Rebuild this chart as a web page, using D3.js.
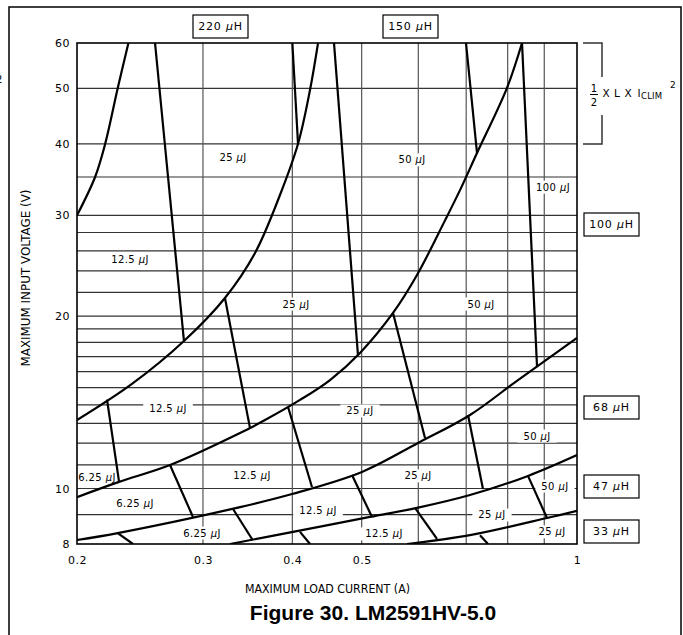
<!DOCTYPE html>
<html>
<head>
<meta charset="utf-8">
<script src="https://cdn.jsdelivr.net/npm/d3@7"></script>
<style>
  body { margin: 0; background: #fff; }
</style>
</head>
<body>
<div id="chart"></div>
<script>
// ---- data (current in A, voltage in V) ----
var xTickValues = [0.2, 0.3, 0.4, 0.5, 1];
var yTickValues = [8, 10, 20, 30, 40, 50, 60];
var xGridValues = [0.3, 0.4, 0.5, 0.6, 0.7, 0.8, 0.9];
var yGridValues = [9, 10, 11, 12, 13, 14, 15, 16, 17, 18, 19, 20, 22, 24, 26, 28, 30, 35, 40, 50];

// inductor boundaries
var curve330to220 = [[0.2, 30], [0.212, 35], [0.219, 40], [0.228, 50], [0.236, 60]];
var curve220to150 = [[0.2, 13.17], [0.2387, 15.23], [0.2822, 18.1], [0.322, 21.52], [0.3547, 25.78],
  [0.3844, 32.56], [0.4074, 40], [0.4234, 49.67], [0.4345, 60]];
var curve150to100 = [[0.2, 9.66], [0.229, 10.27], [0.2698, 10.99], [0.338, 12.5], [0.3663, 13.17], [0.41, 14.28],
  [0.4516, 15.47], [0.4973, 17.25], [0.5531, 20.26], [0.5975, 23.6], [0.6539, 29.4], [0.6862, 33.2], [0.7248, 38.55],
  [0.7983, 50.1], [0.8378, 60]];
var curve100to68 = [[0.2, 8.13], [0.228, 8.36], [0.338, 9.28], [0.3996, 9.78], [0.5005, 10.69], [0.5994, 12.01],
  [0.7086, 13.44], [0.827, 15.47], [1, 18.32]];
var curve68to47 = [[0.3273, 8], [0.4009, 8.4], [0.5136, 8.92], [0.5975, 9.25], [0.7086, 9.74], [0.854, 10.52], [1, 11.44]];
var curve47to33 = [[0.5786, 8], [0.7086, 8.29], [0.908, 8.88], [1, 9.14]];

// energy boundaries
var energyLines = [
  [[0.2571, 60], [0.2822, 18.1]],
  [[0.40, 60], [0.4074, 40]],
  [[0.4574, 60], [0.4941, 17.1]],
  [[0.6996, 60], [0.7248, 38.55]],
  [[0.8378, 60], [0.8793, 16.3]],
  [[0.322, 21.52], [0.349, 12.76]],
  [[0.2203, 14.3], [0.229, 10.27]],
  [[0.5531, 20.26], [0.6131, 12.25]],
  [[0.2698, 10.99], [0.2905, 8.92]],
  [[0.3945, 13.88], [0.4261, 10.06]],
  [[0.4847, 10.56], [0.5169, 8.92]],
  [[0.3305, 9.21], [0.352, 8.13]],
  [[0.41, 8.4], [0.4234, 8]],
  [[0.5937, 9.25], [0.6372, 8.17]],
  [[0.7041, 13.44], [0.7389, 9.98]],
  [[0.854, 10.52], [0.908, 8.88]],
  [[0.7318, 8.29], [0.7509, 8]],
  [[0.228, 8.36], [0.2395, 8]]
];

// energy labels: current, voltage, µJ
var energyLabels = [
  [0.3305, 37.9, "25"], [0.588, 37.5, "50"], [0.9257, 33.6, "100"], [0.2372, 25.1, "12.5"],
  [0.4048, 21.0, "25"], [0.7342, 21.0, "50"], [0.2681, 13.82, "12.5"], [0.4973, 13.66, "25"],
  [0.8793, 12.35, "50"], [0.2133, 10.47, "6.25"], [0.3513, 10.52, "12.5"], [0.5994, 10.52, "25"],
  [0.9316, 10.10, "50"], [0.2411, 9.43, "6.25"], [0.4345, 9.14, "12.5"], [0.2991, 8.36, "6.25"],
  [0.5373, 8.33, "12.5"], [0.7606, 8.99, "25"], [0.9227, 8.40, "25"]
];

var inductorNames = ["220", "150", "100", "68", "47", "33"];

// ---- layout ----
var svgWidth = 683;
var svgHeight = 635;
var margin = { top: 43, right: 106, bottom: 91, left: 77 };
var width = 500;
var height = 501;

var svg = d3.select("#chart")
  .append("svg")
  .attr("width", svgWidth)
  .attr("height", svgHeight)
  .attr("font-family", "DejaVu Sans, sans-serif");

// page frame
svg.append("path")
  .attr("d", "M9,640 V7 H681 V640")
  .attr("fill", "none")
  .attr("stroke", "#000")
  .attr("stroke-width", 1.5);

// stray glyph from neighbouring figure
svg.append("text").attr("x", -4).attr("y", 83).attr("font-size", 10).text("2");

var chartGroup = svg.append("g")
  .attr("transform", `translate(${margin.left}, ${margin.top})`);

var xScale = d3.scaleLog().domain([0.2, 1]).range([0, width]);
var yScale = d3.scaleLog().domain([8, 60]).range([height, 0]);

chartGroup.append("clipPath").attr("id", "plotClip")
  .append("rect").attr("width", width).attr("height", height);

// grid
chartGroup.selectAll(".hgrid").data(yGridValues).enter()
  .append("line")
  .attr("x1", 0).attr("x2", width)
  .attr("y1", d => yScale(d)).attr("y2", d => yScale(d))
  .attr("stroke", "#333").attr("stroke-width", 1.2);

chartGroup.selectAll(".vgrid").data(xGridValues).enter()
  .append("line")
  .attr("y1", 0).attr("y2", height)
  .attr("x1", d => xScale(d)).attr("x2", d => xScale(d))
  .attr("stroke", "#555").attr("stroke-width", 1.2);

// axes (labels only)
var xAxis = d3.axisBottom(xScale).tickValues(xTickValues).tickSize(0).tickPadding(12).tickFormat(d3.format(""));
var yAxis = d3.axisLeft(yScale).tickValues(yTickValues).tickSize(0).tickPadding(7).tickFormat(d3.format(""));

var gx = chartGroup.append("g").attr("transform", `translate(0, ${height})`).call(xAxis);
var gy = chartGroup.append("g").call(yAxis);
[gx, gy].forEach(g => {
  g.select(".domain").remove();
  g.attr("font-family", null).attr("font-size", null);
  g.selectAll("text")
    .attr("font-size", 11)
    .attr("letter-spacing", 0.5)
    .attr("fill", "#000");
});

var bgLayer = chartGroup.append("g");
var curveLayer = chartGroup.append("g").attr("clip-path", "url(#plotClip)");
var labelLayer = chartGroup.append("g");

// plot frame
chartGroup.append("rect")
  .attr("width", width).attr("height", height)
  .attr("fill", "none").attr("stroke", "#000").attr("stroke-width", 1.6);

var smoothLine = d3.line()
  .x(d => xScale(d[0]))
  .y(d => yScale(d[1]))
  .curve(d3.curveCatmullRom.alpha(0.5));

var straightLine = d3.line()
  .x(d => xScale(d[0]))
  .y(d => yScale(d[1]));

[curve330to220, curve220to150, curve150to100, curve100to68, curve68to47, curve47to33].forEach(c => {
  curveLayer.append("path")
    .attr("d", smoothLine(c))
    .attr("fill", "none").attr("stroke", "#000").attr("stroke-width", 2.2);
});

curveLayer.selectAll(".energy").data(energyLines).enter()
  .append("path")
  .attr("d", d => straightLine(d))
  .attr("fill", "none").attr("stroke", "#000").attr("stroke-width", 2.2);

// energy labels with white backing
energyLabels.forEach(d => {
  var t = labelLayer.append("text")
    .attr("x", xScale(d[0]))
    .attr("y", yScale(d[1]))
    .attr("dy", "0.35em")
    .attr("text-anchor", "middle")
    .attr("font-size", 10)
    .attr("letter-spacing", 0.4);
  t.append("tspan").text(d[2] + " ");
  t.append("tspan").attr("font-style", "italic").text("\u03bc");
  t.append("tspan").text("J");
  var bb = t.node().getBBox();
  bgLayer.append("rect")
    .attr("x", bb.x - 6).attr("y", bb.y - 1)
    .attr("width", bb.width + 12).attr("height", bb.height + 2)
    .attr("fill", "#fff");
});

// inductor boxes
var boxPos = [[193, 15], [383, 15], [584, 213], [584, 396], [584, 475], [584, 520]];
inductorNames.forEach((n, i) => {
  var g = svg.append("g").attr("transform", `translate(${boxPos[i][0]}, ${boxPos[i][1]})`);
  g.append("rect").attr("width", 55).attr("height", 23)
    .attr("fill", "#fff").attr("stroke", "#000").attr("stroke-width", 1.2);
  var t = g.append("text").attr("x", 27.5).attr("y", 11.5).attr("dy", "0.36em")
    .attr("text-anchor", "middle").attr("font-size", 11).attr("letter-spacing", 0.8);
  t.append("tspan").text(n + " ");
  t.append("tspan").attr("font-style", "italic").text("\u03bc");
  t.append("tspan").text("H");
});

// energy formula bracket: 1/2 x L x Iclim^2
svg.append("path")
  .attr("d", "M583,43 H602 V77 M602,115 V144 H583")
  .attr("fill", "none").attr("stroke", "#333").attr("stroke-width", 1.5);
svg.append("text").attr("x", 594).attr("y", 92).attr("text-anchor", "middle").attr("font-size", 10).text("1");
svg.append("line").attr("x1", 590).attr("x2", 598).attr("y1", 94.5).attr("y2", 94.5).attr("stroke", "#000").attr("stroke-width", 1);
svg.append("text").attr("x", 594).attr("y", 106).attr("text-anchor", "middle").attr("font-size", 10).text("2");
[["X", 606], ["L", 617], ["X", 628], ["I", 639]].forEach(p => {
  svg.append("text").attr("x", p[1]).attr("y", 97).attr("text-anchor", "middle").attr("font-size", 10.5).text(p[0]);
});
svg.append("text").attr("x", 641).attr("y", 99).attr("font-size", 8.5).attr("letter-spacing", 0.2).text("CLIM");
svg.append("text").attr("x", 670).attr("y", 88).attr("font-size", 9).text("2");

// axis titles
svg.append("text")
  .attr("transform", "translate(30, 278) rotate(-90)")
  .attr("text-anchor", "middle")
  .attr("font-size", 12)
  .attr("textLength", 177)
  .attr("lengthAdjust", "spacingAndGlyphs")
  .text("MAXIMUM INPUT VOLTAGE (V)");

svg.append("text")
  .attr("x", 245).attr("y", 593)
  .attr("font-size", 12)
  .attr("textLength", 165)
  .attr("lengthAdjust", "spacingAndGlyphs")
  .text("MAXIMUM LOAD CURRENT (A)");

svg.append("text")
  .attr("x", 373).attr("y", 620)
  .attr("text-anchor", "middle")
  .attr("font-family", "Liberation Sans, Arial, sans-serif")
  .attr("font-weight", "bold")
  .attr("font-size", 21)
  .text("Figure 30. LM2591HV-5.0");
</script>
</body>
</html>
